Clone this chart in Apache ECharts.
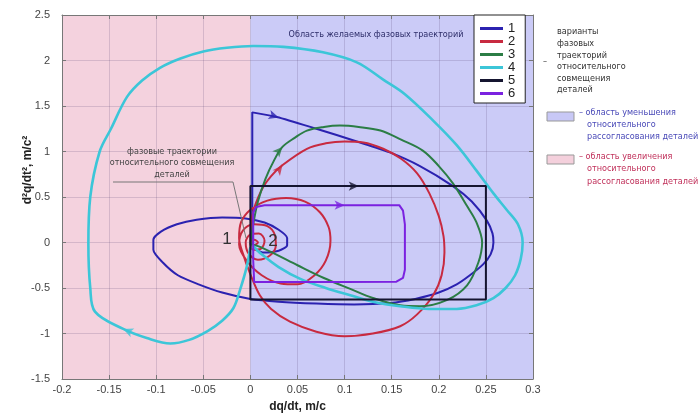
<!DOCTYPE html>
<html><head><meta charset="utf-8">
<script src="https://cdn.jsdelivr.net/npm/echarts@6/dist/echarts.min.js"></script>
<style>html,body{margin:0;padding:0;background:#fff}#c{width:698px;height:418px}</style>
</head><body><div id="c"></div>
<script>
// ---- data ----
var seriesNames = ['1','2','3','4','5','6'];
var xTicks = [-0.2,-0.15,-0.1,-0.05,0,0.05,0.1,0.15,0.2,0.25,0.3];
var yTicks = [-1.5,-1,-0.5,0,0.5,1,1.5,2,2.5];
var regionBounds = [-0.2, 0, 0.3];

var traj1 = [[0.002,-0.05],[0.002,0.5],[0.002,1.0],[0.002,1.43],[0.028,1.38],[0.07,1.25],[0.113,1.11],[0.148,0.99],[0.18,0.84],[0.215,0.62],[0.235,0.45],[0.251,0.24],[0.257,0.1],[0.258,0],[0.255,-0.13],[0.247,-0.24],[0.233,-0.36],[0.219,-0.46],[0.2,-0.55],[0.175,-0.62],[0.148,-0.665],[0.11,-0.68],[0.07,-0.67],[0.03,-0.65],[0.0,-0.62],[-0.03,-0.55],[-0.055,-0.46],[-0.077,-0.36],[-0.093,-0.22],[-0.103,-0.08],[-0.103,0.03],[-0.095,0.12],[-0.078,0.2],[-0.057,0.25],[-0.03,0.275],[-0.005,0.265],[0.015,0.22],[0.03,0.14],[0.039,0.05],[0.039,-0.03],[0.03,-0.09],[0.013,-0.11],[0.003,-0.06]];
var traj2 = [[0.0,0.0],[0.002,0.3],[0.012,0.58],[0.022,0.73],[0.034,0.85],[0.06,1.03],[0.08,1.09],[0.1,1.11],[0.12,1.1],[0.141,1.03],[0.16,0.92],[0.177,0.76],[0.19,0.54],[0.2,0.29],[0.205,0.07],[0.206,-0.11],[0.203,-0.36],[0.194,-0.58],[0.177,-0.79],[0.159,-0.92],[0.13,-1.0],[0.1,-1.03],[0.07,-0.98],[0.042,-0.87],[0.022,-0.73],[0.01,-0.58],[0.0,-0.35],[-0.008,-0.12],[-0.012,0.05],[-0.01,0.22],[0.0,0.36],[0.018,0.46],[0.038,0.49],[0.058,0.45],[0.074,0.33],[0.083,0.17],[0.085,0.02],[0.08,-0.2],[0.068,-0.36],[0.05,-0.46],[0.032,-0.45],[0.012,-0.36],[-0.004,-0.2],[-0.012,-0.02],[-0.008,0.13],[0.004,0.2],[0.018,0.18],[0.026,0.08],[0.027,-0.03],[0.021,-0.14],[0.008,-0.19],[-0.002,-0.12],[-0.005,0.0],[0.0,0.09],[0.009,0.1],[0.015,0.02],[0.011,-0.07],[0.003,-0.08],[0.0,-0.02],[0.004,0.03],[0.008,0.0],[0.004,-0.03]];
var traj3 = [[0.0,-0.02],[0.003,0.2],[0.008,0.45],[0.016,0.7],[0.025,0.9],[0.034,1.05],[0.047,1.15],[0.06,1.23],[0.078,1.27],[0.095,1.285],[0.115,1.27],[0.138,1.23],[0.16,1.13],[0.183,1.01],[0.2,0.84],[0.215,0.65],[0.23,0.4],[0.24,0.22],[0.246,0.0],[0.242,-0.22],[0.23,-0.47],[0.209,-0.63],[0.18,-0.7],[0.159,-0.69],[0.13,-0.61],[0.106,-0.51],[0.078,-0.39],[0.05,-0.25],[0.025,-0.12],[0.008,-0.04],[0.0,-0.02]];
var traj4 = [[0.0,-0.05],[-0.004,-0.27],[-0.011,-0.52],[-0.018,-0.72],[-0.03,-0.86],[-0.045,-0.97],[-0.065,-1.07],[-0.085,-1.11],[-0.11,-1.05],[-0.135,-0.95],[-0.165,-0.76],[-0.17,-0.5],[-0.172,-0.02],[-0.17,0.5],[-0.16,1.0],[-0.148,1.25],[-0.131,1.6],[-0.115,1.78],[-0.096,1.92],[-0.075,2.02],[-0.05,2.1],[-0.025,2.14],[0.003,2.16],[0.035,2.15],[0.077,2.09],[0.113,1.98],[0.141,1.79],[0.164,1.63],[0.194,1.34],[0.219,1.07],[0.24,0.79],[0.258,0.54],[0.272,0.36],[0.284,0.2],[0.289,0.0],[0.287,-0.18],[0.281,-0.36],[0.271,-0.5],[0.258,-0.61],[0.24,-0.69],[0.219,-0.73],[0.19,-0.73],[0.159,-0.7],[0.13,-0.65],[0.106,-0.58],[0.08,-0.5],[0.053,-0.4],[0.03,-0.27],[0.012,-0.13],[0.002,-0.03]];
var traj5 = [[0.0,0.0],[0.0,0.62],[0.25,0.62],[0.25,-0.625],[0.0,-0.625],[0.0,0.0]];
var traj6 = [[0.003,0.0],[0.003,0.33],[0.006,0.39],[0.015,0.41],[0.05,0.41],[0.1,0.41],[0.158,0.41],[0.162,0.35],[0.164,0.2],[0.164,-0.3],[0.162,-0.39],[0.155,-0.43],[0.1,-0.435],[0.004,-0.435],[0.003,-0.2],[0.003,0.0]];

// direction arrows: [series index, x, y, rotation]
var arrows = [[0,0.03,1.375,-107],[1,0.034,0.85,-38],[2,0.034,1.05,-42],[3,-0.135,-0.95,67],[4,0.115,0.62,-90],[5,0.1,0.41,-90]];

var colors = ['#2b22b0','#c82a40','#2b7d45','#3cc6d8','#151530','#7b22e0'];
var widths = [2,2,2,2.6,2,2];
var smoothing = [0.25,0.35,0.35,0.35,false,false];
var trajs = [traj1,traj2,traj3,traj4,traj5,traj6];

var chart = echarts.init(document.getElementById('c'));
var series = [];
series.push({type:'line', data:[], z:0, silent:true,
  markArea:{silent:true, z:0, data:[
    [{xAxis:regionBounds[0], itemStyle:{color:'#f4d2de'}},{xAxis:regionBounds[1]}],
    [{xAxis:regionBounds[1], itemStyle:{color:'#cbcbf7'}},{xAxis:regionBounds[2]}]
  ]}});
for (var i=0;i<6;i++){
  series.push({name:seriesNames[i], type:'line', data:trajs[i], showSymbol:false, smooth:smoothing[i],
    color:colors[i], lineStyle:{width:widths[i], color:colors[i]}, z:5+i, animation:false});
}
series.push({type:'scatter', z:20, silent:true, animation:false,
  data: arrows.map(function(a){return {value:[a[1],a[2]], symbol:'arrow', symbolSize:[7,10], symbolRotate:a[3], itemStyle:{color:colors[a[0]]}};})});

var fontAx = 'Liberation Sans, Arial, sans-serif';
var fontG = 'Liberation Sans Narrow, DejaVu Sans Condensed, sans-serif';
var gridCol = 'rgba(90,70,120,0.2)';
chart.setOption({
  animation:false,
  grid:{left:62,right:165,top:15,bottom:35},
  xAxis:[{type:'value', z:3, min:xTicks[0], max:xTicks[xTicks.length-1], interval:0.05,
      name:'dq/dt, m/c', nameLocation:'middle', nameGap:22,
      nameTextStyle:{fontWeight:'bold', fontSize:12, color:'#222', fontFamily:fontAx},
      axisLine:{show:true,onZero:false,lineStyle:{color:'#777'}},
      axisTick:{inside:true,length:4,lineStyle:{color:'#777'}},
      axisLabel:{color:'#444',fontSize:11,margin:5,fontFamily:fontAx},
      splitLine:{show:true,lineStyle:{color:gridCol,width:1}}},
    {type:'value', z:3, position:'top', min:xTicks[0], max:xTicks[xTicks.length-1], interval:0.05,
      axisLine:{show:true,onZero:false,lineStyle:{color:'#777'}},
      axisTick:{inside:true,length:4,lineStyle:{color:'#777'}},
      axisLabel:{show:false}, splitLine:{show:false}}],
  yAxis:[{type:'value', z:3, min:yTicks[0], max:yTicks[yTicks.length-1], interval:0.5,
      axisLine:{show:true,onZero:false,lineStyle:{color:'#777'}},
      axisTick:{inside:true,length:4,lineStyle:{color:'#777'}},
      axisLabel:{color:'#444',fontSize:11,margin:12,fontFamily:fontAx},
      splitLine:{show:true,lineStyle:{color:gridCol,width:1}}},
    {type:'value', z:3, position:'right', min:yTicks[0], max:yTicks[yTicks.length-1], interval:0.5,
      axisLine:{show:true,onZero:false,lineStyle:{color:'#777'}},
      axisTick:{inside:true,length:4,lineStyle:{color:'#777'}},
      axisLabel:{show:false}, splitLine:{show:false}}],
  legend:{data:seriesNames, orient:'vertical', left:474, top:15, padding:[7,10,3,6], itemGap:0,
    itemWidth:23, itemHeight:3, icon:'rect', backgroundColor:'#fff', borderColor:'#222', borderWidth:1,
    textStyle:{fontSize:13, lineHeight:13, color:'#222', fontFamily:fontAx}},
  series:series,
  graphic:{elements:[
    {type:'text', z:100, x:28, y:170, rotation:Math.PI/2, style:{text:'d²q/dt², m/c²', font:'bold 12px Liberation Sans', fill:'#222', textAlign:'center', textVerticalAlign:'middle'}},
    {type:'text', z:100, x:376, y:35, style:{text:'Область желаемых фазовых траекторий', font:'9px '+fontG, fill:'#2e2e6a', textAlign:'center', textVerticalAlign:'middle'}},
    {type:'text', z:100, x:172, y:163, style:{text:'фазовые траектории\nотносительного совмещения\nдеталей', font:'9px '+fontG, lineHeight:11.5, fill:'#444', textAlign:'center', textVerticalAlign:'middle'}},
    {type:'polyline', z:100, shape:{points:[[113,182],[233,182],[246,238]]}, style:{stroke:'#777', lineWidth:1, fill:null}},
    {type:'text', z:100, x:227, y:239, style:{text:'1', font:'17px Liberation Sans', fill:'#333', textAlign:'center', textVerticalAlign:'middle'}},
    {type:'text', z:100, x:273, y:241, style:{text:'2', font:'17px Liberation Sans', fill:'#333', textAlign:'center', textVerticalAlign:'middle'}},
    {type:'text', z:100, x:545, y:62, style:{text:'–', font:'9px '+fontG, fill:'#444', textAlign:'center', textVerticalAlign:'middle'}},
    {type:'text', z:100, x:557, y:61, style:{text:'варианты\nфазовых\nтраекторий\nотносительного\nсовмещения\nдеталей', font:'9px '+fontG, lineHeight:11.6, fill:'#333', textVerticalAlign:'middle'}},
    {type:'rect', z:100, shape:{x:547,y:112,width:27,height:9}, style:{fill:'#c8c8f6', stroke:'#999', lineWidth:1}},
    {type:'text', z:100, x:579, y:113, style:{text:'– область уменьшения', font:'9px '+fontG, fill:'#4a4ab8', textVerticalAlign:'middle'}},
    {type:'text', z:100, x:587, y:131, style:{text:'относительного\nрассогласования деталей', font:'9px '+fontG, lineHeight:12, fill:'#4a4ab8', textVerticalAlign:'middle'}},
    {type:'rect', z:100, shape:{x:547,y:155,width:27,height:9}, style:{fill:'#f4d0dc', stroke:'#999', lineWidth:1}},
    {type:'text', z:100, x:579, y:157, style:{text:'– область увеличения', font:'9px '+fontG, fill:'#c0305a', textVerticalAlign:'middle'}},
    {type:'text', z:100, x:587, y:175, style:{text:'относительного\nрассогласования деталей', font:'9px '+fontG, lineHeight:12.5, fill:'#c0305a', textVerticalAlign:'middle'}}
  ]}
});
</script></body></html>
